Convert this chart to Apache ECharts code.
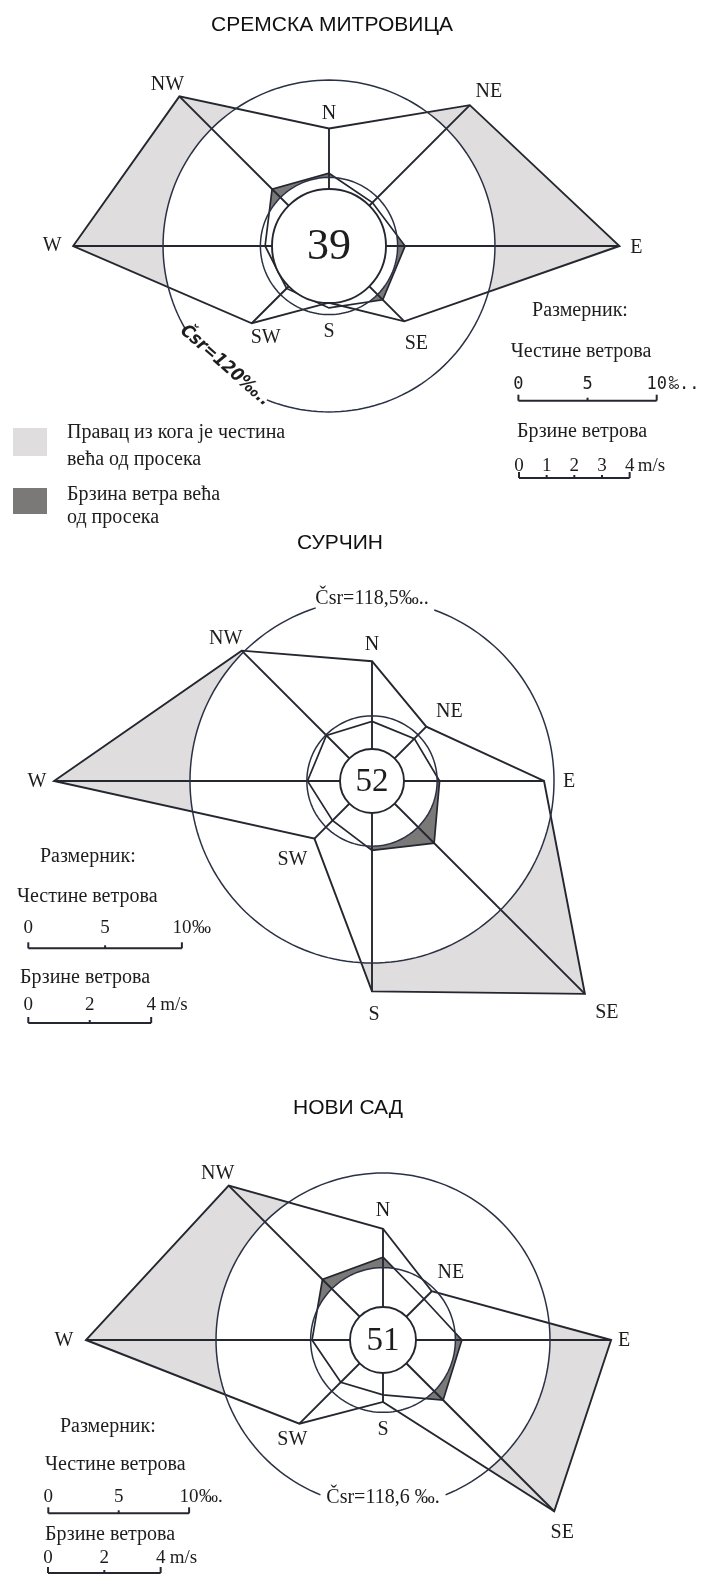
<!DOCTYPE html>
<html>
<head>
<meta charset="utf-8">
<title>Руже ветрова</title>
<script src="https://cdn.jsdelivr.net/npm/echarts@6/dist/echarts.min.js"></script>
<style>
  html, body { margin: 0; padding: 0; background: #fff; }
  #chart { width: 702px; height: 1575px; }
</style>
</head>
<body>
<div id="chart"></div>
<script>
// правци и азимути
const directions = ['N', 'NE', 'E', 'SE', 'S', 'SW', 'W', 'NW'];
const bearings = [0, 45, 90, 135, 180, 225, 270, 315];

// Сремска Митровица: честине (‰), брзине (m/s), тишине
const sremFreq = [85, 144, 210, 77, 41, 79, 185, 153];
const sremSpeed = [2.63, 2.22, 2.75, 2.75, 2.24, 2.17, 2.31, 2.91];
const sremCalm = 39;
const sremMeanFreq = 120;
const sremMeanSpeed = 2.48;

// Сурчин
const surFreq = [78, 50, 112, 196, 137, 53, 207, 120];
const surSpeed = [1.94, 1.95, 2.2, 2.86, 2.26, 1.82, 2.1, 2.1];
const surCalm = 52;
const surMeanFreq = 118.5;
const surMeanSpeed = 2.12;

// Нови Сад
const nsFreq = [79, 49, 162, 172, 44, 84, 211, 155];
const nsSpeed = [2.94, 2.06, 2.8, 3.02, 1.95, 2.12, 2.52, 3.04];
const nsCalm = 51;
const nsMeanFreq = 118.6;
const nsMeanSpeed = 2.57;

// размерници
const freqScaleTicks = [0, 5, 10];          // %
const speedScaleTicksSrem = [0, 1, 2, 3, 4]; // m/s
const speedScaleTicks = [0, 2, 4];           // m/s

const SPEED_UNIT = 20; // јединица радијуса (‰) по 1 m/s
const INK = '#24272f';
const RING = '#2b3145';
const LIGHT = '#dfdddd';
const DARK = '#7b7878';
const SERIF = '"Liberation Serif", "DejaVu Serif", serif';

const roses = [
  {
    freq: sremFreq, speed: sremSpeed, calm: sremCalm, meanFreq: sremMeanFreq, meanSpeed: sremMeanSpeed,
    center: [329, 246], scale: 1.383, calmR: 57, calmFont: 44,
    meanLabel: 'Čsr=120‰..', gap: [203, 240], meanLabelAt: 221, meanLabelR: 0.955, meanLabelRot: -0.72,
    meanLabelFont: 'italic bold 18px "DejaVu Sans Condensed", "DejaVu Sans"',
    labelOffsets: [[0, -15], [19, -13], [17, 2], [12, 22], [0, 29], [14, 14], [-21, 0], [-12, -12]],
    freqBar: { x: 518.4, y: 400.7, labelY: 385, unit: '‰..', font: '17px "DejaVu Sans Mono"', unitDx: 12 },
    speedBar: { x: 519, y: 478, labelY: 466, unit: 'm/s', ticks: speedScaleTicksSrem, unitDx: 8 }
  },
  {
    freq: surFreq, speed: surSpeed, calm: surCalm, meanFreq: surMeanFreq, meanSpeed: surMeanSpeed,
    center: [372, 781], scale: 1.536, calmR: 32, calmFont: 33,
    meanLabel: 'Čsr=118,5‰..', gap: [342, 380], meanLabelAt: 0, meanLabelR: 1.0, meanLabelRot: 0,
    meanLabelFont: '20px ' + SERIF,
    labelOffsets: [[0, -16], [23, -15], [25, 1], [22, 19], [2, 23], [-22, 21], [-17, 1], [-16, -12]],
    freqBar: { x: 28.3, y: 948.3, labelY: 928, unit: '‰', font: '19px ' + SERIF, unitDx: 10 },
    speedBar: { x: 28.3, y: 1023, labelY: 1005, unit: 'm/s', ticks: speedScaleTicks, unitDx: 9 }
  },
  {
    freq: nsFreq, speed: nsSpeed, calm: nsCalm, meanFreq: nsMeanFreq, meanSpeed: nsMeanSpeed,
    center: [383, 1340], scale: 1.408, calmR: 33, calmFont: 33,
    meanLabel: 'Čsr=118,6 ‰.', gap: [158, 202], meanLabelAt: 180, meanLabelR: 0.945, meanLabelRot: 0,
    meanLabelFont: '20px ' + SERIF,
    labelOffsets: [[0, -18], [19, -18], [13, 1], [8, 22], [0, 28], [-7, 16], [-22, 1], [-11, -12]],
    freqBar: { x: 48.3, y: 1513.3, labelY: 1497, unit: '‰.', font: '19px ' + SERIF, unitDx: 10 },
    speedBar: { x: 48, y: 1573, labelY: 1558, unit: 'm/s', ticks: speedScaleTicks, unitDx: 9 }
  }
];

function txt(text, x, y, font, align, extra) {
  return Object.assign({
    type: 'text', x: x, y: y,
    style: { text: text, font: font, fill: '#1d1d1d', align: align, textAlign: align, verticalAlign: 'middle', textVerticalAlign: 'middle' }
  }, extra || {});
}

function scaleBar(children, bar, len, ticks, font) {
  const max = ticks[ticks.length - 1];
  const thick = { stroke: INK, lineWidth: 2 };
  children.push({ type: 'line', shape: { x1: bar.x, y1: bar.y, x2: bar.x + len, y2: bar.y }, style: thick });
  ticks.forEach(function (t, i) {
    const x = bar.x + len * t / max;
    const h = (i === 0 || i === ticks.length - 1) ? 6 : 3;
    children.push({ type: 'line', shape: { x1: x, y1: bar.y, x2: x, y2: bar.y - h }, style: thick });
    children.push(txt(String(t), x, bar.labelY, font, 'center'));
  });
  children.push(txt(bar.unit, bar.x + len + bar.unitDx, bar.labelY, font, 'left'));
}

function makeRenderer(rose) {
  return function (params, api) {
    const rad = Math.PI / 180;
    const pt = function (r, b) { return api.coord([r * Math.sin(b * rad), r * Math.cos(b * rad)]); };
    const ring = function (r, from, to) {
      const pts = [];
      for (let b = from; b <= to + 0.001; b += 2) pts.push(pt(r, b));
      return pts;
    };
    const c = api.coord([0, 0]);
    const freqPts = rose.freq.map(function (f, i) { return pt(f, bearings[i]); });
    const speedPts = rose.speed.map(function (v, i) { return pt(v * SPEED_UNIT, bearings[i]); });
    const meanRing = ring(rose.meanFreq, 0, 360);
    const speedRing = ring(rose.meanSpeed * SPEED_UNIT, 0, 360);
    const line = { stroke: INK, lineWidth: 1.9, fill: 'none', lineJoin: 'miter' };

    const children = [
      { type: 'polygon', shape: { points: freqPts }, style: { fill: LIGHT } },
      { type: 'polygon', shape: { points: meanRing }, style: { fill: '#fff' } },
      { type: 'polygon', shape: { points: speedPts }, style: { fill: DARK } },
      { type: 'polygon', shape: { points: speedRing }, style: { fill: '#fff' } }
    ];
    freqPts.forEach(function (p) {
      children.push({ type: 'line', shape: { x1: c[0], y1: c[1], x2: p[0], y2: p[1] }, style: line });
    });
    children.push({ type: 'polygon', shape: { points: freqPts }, style: line });
    children.push({ type: 'polygon', shape: { points: speedPts }, style: { stroke: INK, lineWidth: 1.7, fill: 'none' } });
    children.push({ type: 'polygon', shape: { points: speedRing }, style: { stroke: RING, lineWidth: 1.5, fill: 'none' } });
    children.push({
      type: 'polyline',
      shape: { points: ring(rose.meanFreq, rose.gap[1], rose.gap[0] + 360) },
      style: { stroke: RING, lineWidth: 1.5, fill: 'none' }
    });
    children.push({ type: 'circle', shape: { cx: c[0], cy: c[1], r: rose.calmR }, style: { fill: '#fff', stroke: INK, lineWidth: 1.9 } });
    children.push(txt(String(rose.calm), c[0], c[1] + 1, rose.calmFont + 'px ' + SERIF, 'center'));

    // ознаке правца
    freqPts.forEach(function (p, i) {
      const o = rose.labelOffsets[i];
      children.push(txt(directions[i], p[0] + o[0], p[1] + o[1], '20px ' + SERIF, 'center'));
    });

    // средња честина
    const mp = pt(rose.meanFreq * rose.meanLabelR, rose.meanLabelAt);
    children.push(txt(rose.meanLabel, mp[0], mp[1], rose.meanLabelFont, 'center', { rotation: rose.meanLabelRot }));

    // размерници
    const freqLen = api.size([100, 0])[0];
    const speedTicks = rose.speedBar.ticks;
    const speedLen = api.size([speedTicks[speedTicks.length - 1] * SPEED_UNIT, 0])[0];
    scaleBar(children, rose.freqBar, freqLen, freqScaleTicks, rose.freqBar.font);
    scaleBar(children, rose.speedBar, speedLen, speedTicks, '19px ' + SERIF);

    return { type: 'group', children: children };
  };
}

const titles = [
  ['СРЕМСКА МИТРОВИЦА', 332, 25],
  ['СУРЧИН', 340, 543],
  ['НОВИ САД', 348, 1108]
];

const notes = [
  ['Размерник:', 580, 311, 'center'],
  ['Честине ветрова', 581, 352, 'center'],
  ['Брзине ветрова', 582, 432, 'center'],
  ['Правац из кога је честина', 67, 433, 'left'],
  ['већа од просека', 67, 460, 'left'],
  ['Брзина ветра већа', 67, 495, 'left'],
  ['од просека', 67, 518, 'left'],
  ['Размерник:', 40, 857, 'left'],
  ['Честине ветрова', 17, 897, 'left'],
  ['Брзине ветрова', 20, 978, 'left'],
  ['Размерник:', 60, 1427, 'left'],
  ['Честине ветрова', 45, 1465, 'left'],
  ['Брзине ветрова', 45, 1535, 'left']
];

const graphic = [];
titles.forEach(function (t) {
  graphic.push({ type: 'text', x: t[1], y: t[2], style: { text: t[0], font: '21px "Liberation Sans", Arial, sans-serif', fill: '#111', align: 'center', textAlign: 'center', verticalAlign: 'middle', textVerticalAlign: 'middle' } });
});
notes.forEach(function (t) {
  graphic.push({ type: 'text', x: t[1], y: t[2], style: { text: t[0], font: '20px ' + SERIF, fill: '#1d1d1d', align: t[3], textAlign: t[3], verticalAlign: 'middle', textVerticalAlign: 'middle' } });
});
graphic.push({ type: 'rect', shape: { x: 13, y: 428, width: 34, height: 28 }, style: { fill: LIGHT } });
graphic.push({ type: 'rect', shape: { x: 13, y: 488, width: 34, height: 26 }, style: { fill: DARK } });

const chart = echarts.init(document.getElementById('chart'), null, { renderer: 'canvas' });

const option = {
  backgroundColor: '#fff',
  animation: false,
  grid: roses.map(function (r) {
    const half = 100 * r.scale;
    return { left: r.center[0] - half, top: r.center[1] - half, width: 2 * half, height: 2 * half };
  }),
  xAxis: roses.map(function (r, i) { return { type: 'value', gridIndex: i, min: -100, max: 100, show: false }; }),
  yAxis: roses.map(function (r, i) { return { type: 'value', gridIndex: i, min: -100, max: 100, show: false }; }),
  series: roses.map(function (r, i) {
    return {
      type: 'custom',
      coordinateSystem: 'cartesian2d',
      xAxisIndex: i,
      yAxisIndex: i,
      clip: false,
      silent: true,
      data: [[0, 0]],
      renderItem: makeRenderer(r)
    };
  }),
  graphic: graphic
};

chart.setOption(option);
</script>
</body>
</html>
